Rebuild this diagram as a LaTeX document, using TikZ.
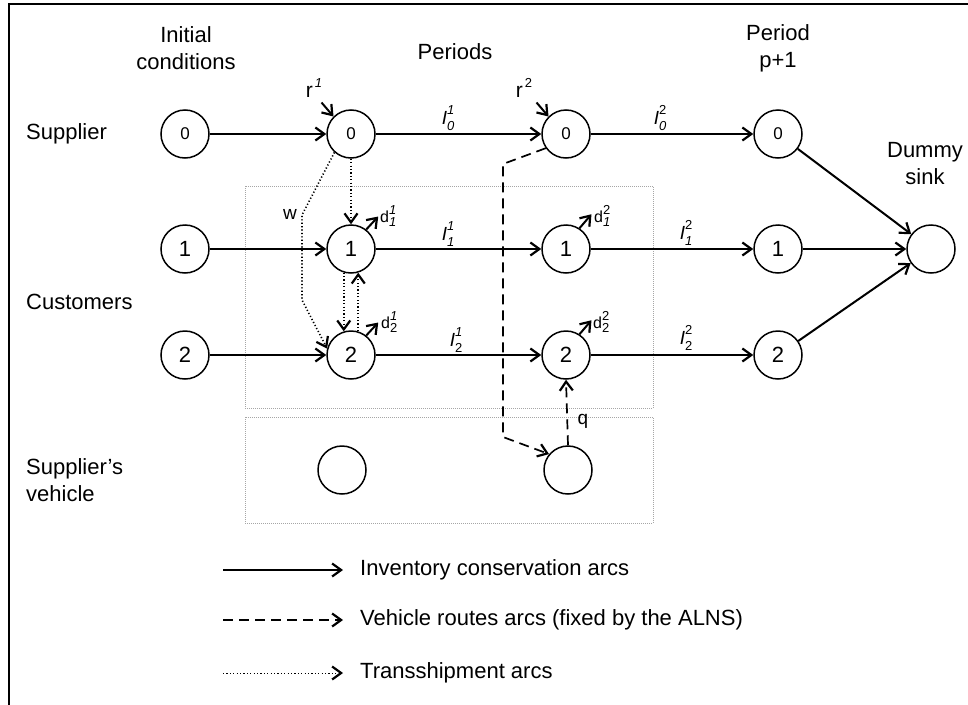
\documentclass[tikz,border=0pt]{standalone}
\usepackage{fontspec}
\setmainfont{Liberation Sans}
\usetikzlibrary{arrows.meta,calc}
\newcommand\SSlab[3]{#1\rlap{\raisebox{0.5em}{\fontsize{13}{13}\selectfont #3}}\raisebox{-0.3em}{\fontsize{13}{13}\selectfont #2}}
\tikzset{
  nd/.style={circle, draw, line width=1.5pt, minimum size=48pt, inner sep=0pt, font=\fontsize{22}{22}\selectfont},
  nds/.style={nd, font=\fontsize{17}{17}\selectfont},
  tip/.style={-{Straight Barb[length=9pt,width=13pt,line width=2.2pt]}},
  inv/.style={tip, line width=2pt},
  veh/.style={tip, line width=1.7pt, dash pattern=on 10pt off 6pt},
  trs/.style={tip, line width=1.6pt, dash pattern=on 1.2pt off 2.2pt},
  box/.style={draw=gray!70, line width=1pt, dash pattern=on 1pt off 1pt},
  txt/.style={font=\fontsize{22}{27}\selectfont, inner sep=0pt},
  lab/.style={font=\fontsize{19}{19}\selectfont, inner sep=0pt},
}
\begin{document}
\begin{tikzpicture}[x=1pt,y=-1pt]
\useasboundingbox (0,0) rectangle (968,704);
\draw[line width=2pt] (9,710) -- (9,4) -- (975,4);

% boxes
\draw[box] (245,186) rectangle (653,408);
\draw[box] (245,417) rectangle (653,523);

% headers
\node[txt, align=center] (hinit) at (186,48) {Initial\\conditions};
\node[txt] (hper) at (455,52) {Periods};
\node[txt, align=center] (hlast) at (778,48) {Period\\p+1};
\node[txt, align=center] (hsink) at (925,164) {Dummy\\sink};

% row labels
\node[txt, anchor=west] (lsup) at (26,134) {Supplier};
\node[txt, anchor=west] (lcus) at (26,302) {Customers};
\node[txt, anchor=west, align=left] (lveh) at (26,480) {Supplier’s\\vehicle};

% nodes
\node[nds] (s0) at (185,134) {0};
\node[nds] (s1) at (351,134) {0};
\node[nds] (s2) at (566,134) {0};
\node[nds] (s3) at (778,134) {0};
\node[nd] (a0) at (185,249) {1};
\node[nd] (a1) at (351,249) {1};
\node[nd] (a2) at (566,249) {1};
\node[nd] (a3) at (778,249) {1};
\node[nd] (b0) at (185,355) {2};
\node[nd] (b1) at (351,355) {2};
\node[nd] (b2) at (566,355) {2};
\node[nd] (b3) at (778,355) {2};
\node[nd] (v1) at (342,470) {};
\node[nd] (v2) at (568,470) {};
\node[nd] (sink) at (931,249) {};

% inventory arcs
\draw[inv] (s0) -- (s1);
\draw[inv] (s1) -- (s2);
\draw[inv] (s2) -- (s3);
\draw[inv] (a0) -- (a1);
\draw[inv] (a1) -- (a2);
\draw[inv] (a2) -- (a3);
\draw[inv] (b0) -- (b1);
\draw[inv] (b1) -- (b2);
\draw[inv] (b2) -- (b3);
\draw[inv] (s3) -- (sink);
\draw[inv] (a3) -- (sink);
\draw[inv] (b3) -- (sink);

% arc labels
\node[lab] (l01) at (448,118) {\SSlab{\textit{I}}{\textit{0}}{\textit{1}}};
\node[lab] (l02) at (660,118) {\SSlab{\textit{I}}{\textit{0}}{2}};
\node[lab] (l11) at (448,234) {\SSlab{\textit{I}}{\textit{1}}{\textit{1}}};
\node[lab] (l12) at (686,233) {\SSlab{\textit{I}}{\textit{1}}{2}};
\node[lab] (l21) at (456,340) {\SSlab{\textit{I}}{2}{\textit{1}}};
\node[lab] (l22) at (686,338) {\SSlab{\textit{I}}{2}{2}};

% supply arrows r
\coordinate (r1s) at ($(s1.135)+(-12,-14)$);
\coordinate (r2s) at ($(s2.135)+(-12,-14)$);
\draw[inv] (r1s) -- (s1.135);
\draw[inv] (r2s) -- (s2.135);
\node[lab, font=\fontsize{21}{21}\selectfont] (r1) at (314,88) {r\raisebox{0.5em}{\fontsize{13}{13}\selectfont\,\textit{1}}};
\node[lab, font=\fontsize{21}{21}\selectfont] (r2) at (524,88) {r\raisebox{0.5em}{\fontsize{13}{13}\selectfont\,2}};

% demand arrows d
\coordinate (d11) at ($(a1.52)+(12,-13)$);
\coordinate (d21) at ($(b1.52)+(12,-13)$);
\coordinate (d12) at ($(a2.57)+(12,-14)$);
\coordinate (d22) at ($(b2.57)+(12,-14)$);
\draw[inv] (a1.52) -- (d11);
\draw[inv] (b1.52) -- (d21);
\draw[inv] (a2.57) -- (d12);
\draw[inv] (b2.57) -- (d22);
\node[lab, anchor=west, font=\fontsize{16}{16}\selectfont] (ld11) at (380,216) {\SSlab{d}{\textit{1}}{\textit{1}}};
\node[lab, anchor=west, font=\fontsize{16}{16}\selectfont] (ld21) at (381,322) {\SSlab{d}{2}{\textit{1}}};
\node[lab, anchor=west, font=\fontsize{16}{16}\selectfont] (ld12) at (594,216) {\SSlab{d}{\textit{1}}{2}};
\node[lab, anchor=west, font=\fontsize{16}{16}\selectfont] (ld22) at (593,322) {\SSlab{d}{2}{2}};

% transshipment arcs
\coordinate (w1) at (302,215);
\coordinate (w2) at (302,300);
\draw[trs] (s1.228) -- (w1) -- (w2) -- (b1.165);
\node[lab] (wl) at (290,214) {w};
\draw[trs] (s1.south) -- (a1.north);
\draw[trs] (a1.253) -- (b1.107);
\draw[trs] (b1.73) -- (a1.287);

% vehicle routes
\coordinate (k1) at (503,164);
\coordinate (k2) at (503,437);
\draw[veh] (s2.215) -- (k1) -- (k2) -- (v2.140);
\draw[veh] (v2.north) -- (b2.south);
\node[lab] (ql) at (583,421) {q};

% legend
\coordinate (la1) at (223,570); \coordinate (la2) at (343,570);
\coordinate (lb1) at (223,620); \coordinate (lb2) at (343,620);
\coordinate (lc1) at (223,673); \coordinate (lc2) at (343,673);
\draw[inv] (la1) -- (la2);
\draw[veh] (lb1) -- (lb2);
\draw[trs, line width=1pt] (lc1) -- (lc2);
\node[txt, anchor=west] (ta) at (360,570) {Inventory conservation arcs};
\node[txt, anchor=west] (tb) at (360,620) {Vehicle routes arcs (fixed by the ALNS)};
\node[txt, anchor=west] (tc) at (360,673) {Transshipment arcs};
\end{tikzpicture}
\end{document}
